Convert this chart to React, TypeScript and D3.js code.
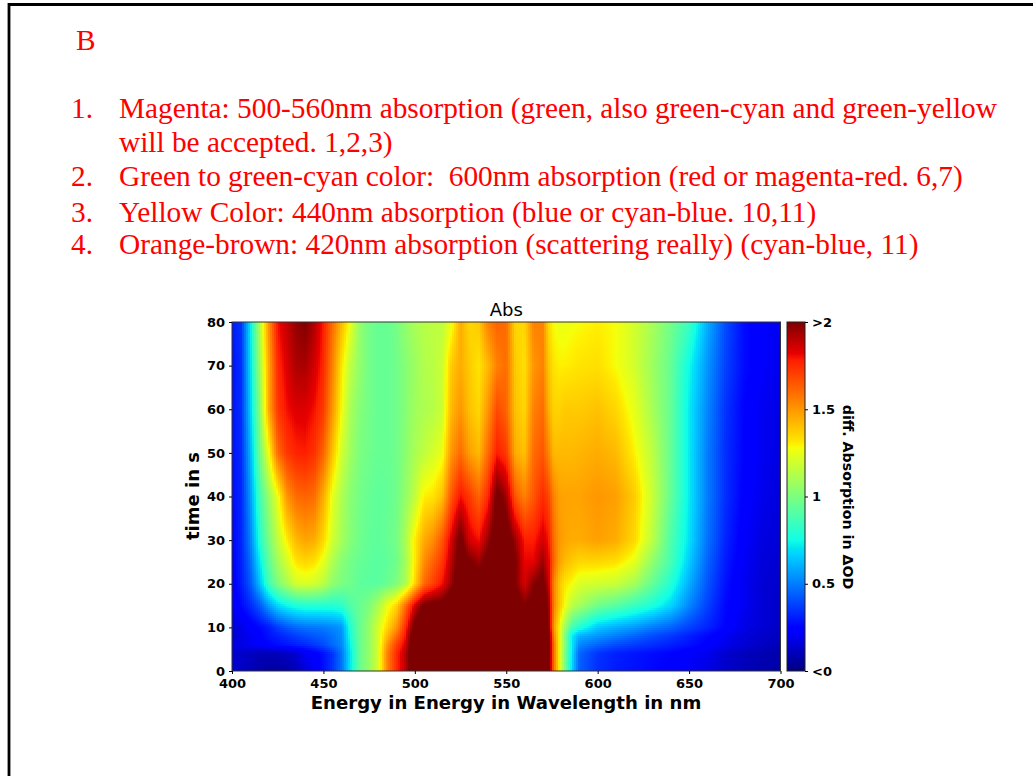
import React, { useRef, useEffect } from 'react';
import * as d3 from 'd3';

const noteLetter = 'B';
const noteNumbers = ['1.', '', '2.', '3.', '4.'];
const noteLines = [
  'Magenta: 500-560nm absorption (green, also green-cyan and green-yellow',
  'will be accepted. 1,2,3)',
  'Green to green-cyan color:  600nm absorption (red or magenta-red. 6,7)',
  'Yellow Color: 440nm absorption (blue or cyan-blue. 10,11)',
  'Orange-brown: 420nm absorption (scattering really) (cyan-blue, 11)',
];

const xTicks = [400, 450, 500, 550, 600, 650, 700];
const yTicks = [0, 10, 20, 30, 40, 50, 60, 70, 80];
const cbarTicks = [0, 0.5, 1, 1.5, 2];
const cbarLabels = ['<0', '0.5', '1', '1.5', '>2'];

const wavelengths = [
  400, 405, 410, 415, 420, 425, 430, 435, 440, 445, 450,
  455, 460, 465, 470, 475, 480, 485, 490, 495, 500,
  505, 510, 515, 520, 525, 530, 535, 540, 545, 550,
  555, 560, 565, 570,
  573, 576, 579, 582, 586, 590,
  600, 610, 620, 630, 640, 650, 660, 670, 680, 690, 700,
];
const times = [0, 4, 6, 8, 10, 15, 20, 25, 30, 40, 50, 60, 70, 80];

// absorption, one row per time
const t0 = [.14, .12, .1, .08, .06, .06, .07, .1, .16, .2, .27,
  .35, .48, .72, .95, 1.05, 1.2, 1.55, 1.75, 1.9, 2.2,
  2.2, 2.2, 2.2, 2.2, 2.2, 2.2, 2.2, 2.2, 2.2, 2.2,
  2.2, 2.2, 2.2, 2.2,
  2.1, 1.6, 1.3, 1.02, .68, .44,
  .34, .3, .28, .26, .24, .21, .18, .13, .1, .08, .07];
const t4 = [.14, .13, .12, .1, .1, .1, .12, .14, .2, .23, .28,
  .35, .48, .72, .95, 1.05, 1.2, 1.55, 1.75, 1.9, 2.2,
  2.2, 2.2, 2.2, 2.2, 2.2, 2.2, 2.2, 2.2, 2.2, 2.2,
  2.2, 2.2, 2.2, 2.2,
  2.1, 1.6, 1.3, 1.02, .7, .45,
  .35, .31, .29, .27, .25, .22, .19, .14, .11, .09, .08];
const t6 = [.17, .18, .2, .22, .25, .27, .29, .31, .33, .36, .4,
  .46, .52, .75, .95, 1.05, 1.2, 1.5, 1.7, 1.85, 2.2,
  2.2, 2.2, 2.2, 2.2, 2.2, 2.2, 2.2, 2.2, 2.2, 2.2,
  2.2, 2.2, 2.2, 2.2,
  2.1, 1.6, 1.3, 1.05, .72, .52,
  .45, .4, .37, .34, .31, .28, .24, .19, .15, .12, .1];
const t8 = [.14, .17, .2, .24, .28, .31, .34, .37, .4, .42, .44,
  .48, .53, .78, .95, 1.05, 1.2, 1.42, 1.6, 1.8, 2.15,
  2.2, 2.2, 2.2, 2.2, 2.2, 2.2, 2.2, 2.2, 2.2, 2.2,
  2.2, 2.2, 2.2, 2.2,
  2.1, 1.55, 1.3, 1.03, .72, .6,
  .55, .5, .45, .4, .36, .31, .26, .2, .16, .13, .11];
const t10 = [.15, .18, .22, .26, .3, .37, .42, .46, .48, .49, .5,
  .52, .55, .8, .95, 1.05, 1.2, 1.35, 1.5, 1.75, 2.05,
  2.2, 2.2, 2.2, 2.2, 2.2, 2.2, 2.2, 2.2, 2.2, 2.2,
  2.2, 2.2, 2.2, 2.2,
  2.05, 1.5, 1.3, 1.1, .88, .8,
  .65, .6, .56, .5, .45, .38, .32, .25, .18, .15, .12];
const t15 = [.2, .26, .33, .42, .56, .68, .74, .78, .8, .8, .8,
  .8, .82, .9, .95, 1.0, 1.1, 1.25, 1.35, 1.6, 1.85,
  2.02, 2.05, 2.05, 2.15, 2.2, 2.2, 2.2, 2.2, 2.2, 2.2,
  2.1, 2.0, 2.05, 2.1,
  2.0, 1.55, 1.4, 1.28, 1.15, 1.1,
  .98, .92, .85, .78, .68, .52, .38, .26, .2, .15, .13];
const t20 = [.22, .3, .42, .62, .85, 1.0, 1.1, 1.2, 1.22, 1.2, 1.15,
  1.05, 1.0, .97, .93, .92, .92, .95, 1.0, 1.1, 1.35,
  1.6, 1.7, 1.8, 1.95, 2.15, 2.1, 2.08, 2.15, 2.2, 2.2,
  2.0, 1.85, 1.98, 2.05,
  1.9, 1.55, 1.4, 1.32, 1.28, 1.22,
  1.2, 1.18, 1.1, .95, .8, .6, .42, .28, .2, .15, .13];
const t25 = [.24, .31, .46, .7, .92, 1.08, 1.2, 1.32, 1.35, 1.33, 1.25,
  1.12, 1.03, .98, .95, .93, .92, .93, .97, 1.08, 1.3,
  1.52, 1.62, 1.72, 1.9, 2.08, 2.02, 1.95, 2.05, 2.15, 2.15,
  2.02, 1.82, 1.82, 1.95,
  1.85, 1.62, 1.48, 1.42, 1.38, 1.35,
  1.35, 1.33, 1.25, 1.05, .88, .66, .45, .3, .21, .16, .14];
const t30 = [.25, .32, .5, .78, .98, 1.15, 1.3, 1.42, 1.47, 1.45, 1.35,
  1.2, 1.1, 1.02, .97, .94, .93, .95, .98, 1.1, 1.3,
  1.45, 1.52, 1.65, 1.85, 2.05, 1.85, 1.8, 1.95, 2.1, 2.1,
  1.95, 1.78, 1.78, 1.85,
  1.8, 1.6, 1.5, 1.47, 1.45, 1.45,
  1.48, 1.45, 1.35, 1.15, .9, .7, .48, .32, .22, .17, .15];
const t40 = [.27, .32, .55, .85, 1.05, 1.25, 1.5, 1.6, 1.62, 1.6, 1.45,
  1.25, 1.12, 1.03, .98, .95, .93, .94, .97, 1.05, 1.15,
  1.3, 1.32, 1.4, 1.65, 1.8, 1.72, 1.62, 1.75, 2.05, 1.95,
  1.65, 1.55, 1.65, 1.75,
  1.7, 1.55, 1.48, 1.47, 1.47, 1.47,
  1.5, 1.48, 1.38, 1.18, .95, .72, .5, .34, .24, .19, .16];
const t50 = [.28, .33, .6, .95, 1.25, 1.6, 1.72, 1.77, 1.78, 1.74, 1.62,
  1.4, 1.2, 1.08, 1.0, .97, .95, .95, .97, 1.03, 1.1,
  1.15, 1.2, 1.25, 1.5, 1.6, 1.48, 1.42, 1.6, 1.78, 1.72,
  1.45, 1.4, 1.6, 1.65,
  1.55, 1.42, 1.42, 1.42, 1.42, 1.43,
  1.45, 1.42, 1.3, 1.15, .95, .72, .5, .34, .25, .2, .17];
const t60 = [.28, .34, .65, 1.0, 1.45, 1.72, 1.8, 1.84, 1.84, 1.8, 1.72,
  1.5, 1.28, 1.1, 1.02, .98, .95, .95, .97, 1.02, 1.08,
  1.11, 1.13, 1.18, 1.42, 1.5, 1.4, 1.35, 1.5, 1.68, 1.62,
  1.4, 1.35, 1.55, 1.6,
  1.45, 1.36, 1.36, 1.38, 1.38, 1.38,
  1.4, 1.35, 1.25, 1.1, .95, .72, .52, .35, .25, .2, .18];
const t70 = [.28, .34, .68, 1.05, 1.45, 1.75, 1.84, 1.92, 1.93, 1.86, 1.76,
  1.55, 1.32, 1.15, 1.05, .98, .95, .95, .97, 1.02, 1.07,
  1.12, 1.14, 1.18, 1.38, 1.45, 1.38, 1.32, 1.42, 1.55, 1.6,
  1.38, 1.33, 1.5, 1.55,
  1.4, 1.32, 1.3, 1.3, 1.31, 1.32,
  1.33, 1.28, 1.2, 1.08, .95, .75, .55, .38, .27, .22, .19];
const t80 = [.3, .35, .7, 1.1, 1.5, 1.8, 1.88, 1.96, 2.0, 1.92, 1.78,
  1.6, 1.42, 1.25, 1.05, .98, .95, .95, .98, 1.05, 1.1,
  1.13, 1.15, 1.15, 1.25, 1.45, 1.35, 1.38, 1.55, 1.62, 1.6,
  1.35, 1.35, 1.55, 1.55,
  1.35, 1.28, 1.26, 1.26, 1.27, 1.28,
  1.3, 1.28, 1.2, 1.1, .98, .85, .6, .4, .27, .22, .2];
const absRows = [t0, t4, t6, t8, t10, t15, t20, t25, t30, t40, t50, t60, t70, t80];

// matplotlib jet
const jetStops = [0, 0.11, 0.125, 0.34, 0.35, 0.375, 0.64, 0.65, 0.66, 0.89, 0.91, 1];
const jetColors = ['#00007f', '#0000ff', '#0000ff', '#00d8ff', '#00e2f0', '#10ffe6', '#f5ff0a', '#ffef00', '#ffe400', '#ff1e00', '#e80000', '#7f0000'];
const jet = d3.scaleLinear<string>().domain(jetStops).range(jetColors).clamp(true);

const plot = { left: 232, right: 780.5, top: 322, bottom: 671 };
const cbar = { left: 787, right: 805 };
const FONT = '"DejaVu Sans", sans-serif';

const x = d3.scaleLinear().domain([400, 700]).range([plot.left, plot.right]);
const y = d3.scaleLinear().domain([0, 80]).range([plot.bottom, plot.top]);
const cy = d3.scaleLinear().domain([0, 2]).range([plot.bottom, plot.top]);

// same smoothing the original imshow used: bilinear between read values
const bisect = d3.bisector((d: number) => d).right;
function shade(nm: number, s: number) {
  const i = Math.min(Math.max(bisect(wavelengths, nm) - 1, 0), wavelengths.length - 2);
  const j = Math.min(Math.max(bisect(times, s) - 1, 0), times.length - 2);
  const u = (nm - wavelengths[i]) / (wavelengths[i + 1] - wavelengths[i]);
  const v = (s - times[j]) / (times[j + 1] - times[j]);
  const a = absRows[j][i] * (1 - u) + absRows[j][i + 1] * u;
  const b = absRows[j + 1][i] * (1 - u) + absRows[j + 1][i + 1] * u;
  return a * (1 - v) + b * v;
}

const App = () => {
  const svgRef = useRef<SVGSVGElement>(null);

  useEffect(() => {
    const svg = d3.select(svgRef.current);
    svg.selectAll('*').remove();

    // page frame
    svg.append('path')
      .attr('d', 'M9,776V4.5H1033')
      .attr('fill', 'none')
      .attr('stroke', '#000')
      .attr('stroke-width', 2.8);

    const notes = svg.append('g')
      .attr('fill', '#ff0000')
      .attr('font-family', '"Liberation Serif", serif')
      .attr('font-size', 29.33);
    notes.append('text').attr('x', 76).attr('y', 50).text(noteLetter);
    const lineY = [118, 152, 186, 222, 254];
    noteLines.forEach((t, i) => {
      notes.append('text').attr('x', 71).attr('y', lineY[i]).text(noteNumbers[i]);
      notes.append('text').attr('x', 119).attr('y', lineY[i]).attr('xml:space', 'preserve').text(t);
    });

    // heatmap cells
    const cell = 2;
    const cols = d3.range(plot.left, plot.right, cell);
    const rows = d3.range(plot.top, plot.bottom, cell);
    const cells = rows.flatMap(py => cols.map(px => ({ px, py })));
    svg.append('g')
      .attr('shape-rendering', 'crispEdges')
      .selectAll('rect')
      .data(cells)
      .join('rect')
      .attr('x', d => d.px)
      .attr('y', d => d.py)
      .attr('width', d => Math.min(cell, plot.right - d.px))
      .attr('height', d => Math.min(cell, plot.bottom - d.py))
      .attr('fill', d => jet(shade(x.invert(d.px + cell / 2), y.invert(d.py + cell / 2)) / 2));

    svg.append('rect')
      .attr('x', plot.left).attr('y', plot.top)
      .attr('width', plot.right - plot.left).attr('height', plot.bottom - plot.top)
      .attr('fill', 'none').attr('stroke', '#333').attr('stroke-width', 1);

    // colorbar
    const levels = d3.range(plot.top, plot.bottom, 1);
    svg.append('g')
      .attr('shape-rendering', 'crispEdges')
      .selectAll('rect')
      .data(levels)
      .join('rect')
      .attr('x', cbar.left)
      .attr('y', d => d)
      .attr('width', cbar.right - cbar.left)
      .attr('height', 1)
      .attr('fill', d => jet(cy.invert(d + 0.5) / 2));
    svg.append('rect')
      .attr('x', cbar.left).attr('y', plot.top)
      .attr('width', cbar.right - cbar.left).attr('height', plot.bottom - plot.top)
      .attr('fill', 'none').attr('stroke', '#222').attr('stroke-width', 1);

    // axes
    const styleAxis = (g: any) => {
      g.select('.domain').remove();
      g.selectAll('text')
        .attr('font-family', FONT)
        .attr('font-weight', 'bold')
        .attr('font-size', 13)
        .attr('fill', '#000');
      g.selectAll('line').attr('stroke', '#000');
    };
    svg.append('g')
      .attr('transform', `translate(0,${plot.bottom})`)
      .call(d3.axisBottom(x).tickValues(xTicks).tickSize(3).tickPadding(5).tickFormat(d3.format('d')) as any)
      .call(styleAxis);
    svg.append('g')
      .attr('transform', `translate(${plot.left},0)`)
      .call(d3.axisLeft(y).tickValues(yTicks).tickSize(3).tickPadding(4).tickFormat(d3.format('d')) as any)
      .call(styleAxis);
    svg.append('g')
      .attr('transform', `translate(${cbar.right},0)`)
      .call(d3.axisRight(cy).tickValues(cbarTicks).tickSize(3).tickPadding(4)
        .tickFormat((_, i) => cbarLabels[i]) as any)
      .call(styleAxis);

    svg.append('text')
      .attr('x', (plot.left + plot.right) / 2).attr('y', 316)
      .attr('text-anchor', 'middle')
      .attr('font-family', FONT).attr('font-size', 18)
      .text('Abs');
    svg.append('text')
      .attr('x', 506).attr('y', 709)
      .attr('text-anchor', 'middle')
      .attr('font-family', FONT).attr('font-weight', 'bold').attr('font-size', 18.1)
      .text('Energy in Energy in Wavelength in nm');
    svg.append('text')
      .attr('transform', 'translate(199,496) rotate(-90)')
      .attr('text-anchor', 'middle')
      .attr('font-family', FONT).attr('font-weight', 'bold').attr('font-size', 18)
      .text('time in s');
    svg.append('text')
      .attr('transform', 'translate(843,497) rotate(90)')
      .attr('text-anchor', 'middle')
      .attr('font-family', FONT).attr('font-weight', 'bold').attr('font-size', 14.2)
      .text('diff. Absorption in ΔOD');
  }, []);

  return (
    <svg
      ref={svgRef}
      width={1033}
      height={776}
      style={{ position: 'absolute', left: 0, top: 0, background: '#fff' }}
    />
  );
};

export default App;
